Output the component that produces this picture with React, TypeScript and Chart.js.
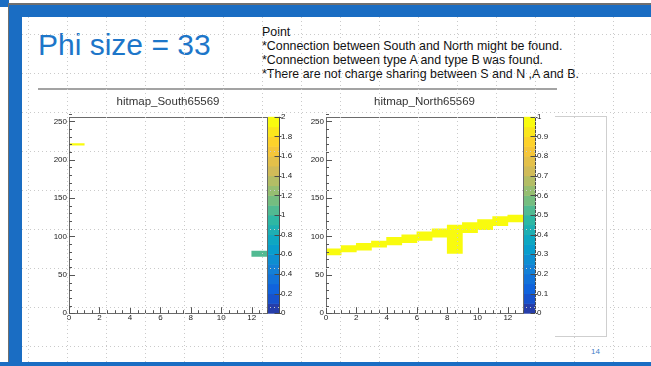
import React, { useEffect, useRef } from 'react';
import { Chart, registerables } from 'chart.js';

Chart.register(...registerables);

// Lower edges of the x bins shared by both hit maps
const xBins = [0, 1, 2, 3, 4, 5, 6, 7, 8, 9, 10, 11, 12];

// hitmap_South65569: filled y-range of each column and its bin content (null = empty column)
const southLow = [219, null, null, null, null, null, null, null, null, null, null, null, 74];
const southHigh = [221, null, null, null, null, null, null, null, null, null, null, null, 81];
const southValue = [2, null, null, null, null, null, null, null, null, null, null, null, 1];

// hitmap_North65569
const northLow = [76, 80, 82, 86, 89, 92, 95, 99, 78, 105, 109, 114, 119];
const northHigh = [84, 88, 91, 94, 99, 102, 106, 110, 115, 118, 122, 126, 128];
const northValue = [1, 1, 1, 1, 1, 1, 1, 1, 1, 1, 1, 1, 1];

// Axis ranges and label steps
const xRange = [0, 13];
const yRange = [0, 256];
const xLabelStep = 2;
const yLabelStep = 50;
const xMinorStep = 0.5;
const yMinorStep = 10;
const southZMax = 2;
const southZStep = 0.2;
const northZMax = 1;
const northZStep = 0.1;

const slideTitle = 'Phi size = 33';
const notes = [
  'Point',
  '*Connection between South and North might be found.',
  '*Connection between type A and type B was found.',
  '*There are not charge sharing between S and N ,A and B.',
];
const pageNumber = '14';

const FONT = "'Liberation Sans', Arial, sans-serif";
const BLUE = '#1a6dc3';
const CONTOURS = 20;

// ROOT "kBird" palette
const birdStops = [0, 0.125, 0.25, 0.375, 0.5, 0.625, 0.75, 0.875, 1];
const birdR = [0.2082, 0.0592, 0.078, 0.0232, 0.1802, 0.5301, 0.8186, 0.9956, 0.9764];
const birdG = [0.1664, 0.3599, 0.5041, 0.6419, 0.7178, 0.7492, 0.7328, 0.7862, 0.9832];
const birdB = [0.5293, 0.8684, 0.8385, 0.7914, 0.6425, 0.4662, 0.3499, 0.1968, 0.0539];

function bird(f: number): string {
  const t = Math.max(0, Math.min(1, f));
  let k = 0;
  while (k < birdStops.length - 2 && t > birdStops[k + 1]) k++;
  const u = (t - birdStops[k]) / (birdStops[k + 1] - birdStops[k]);
  const mix = (a: number[]) => Math.round(255 * (a[k] + (a[k + 1] - a[k]) * u));
  return `rgb(${mix(birdR)},${mix(birdG)},${mix(birdB)})`;
}

function levelColor(level: number) {
  return bird((level + 0.99) / CONTOURS);
}

function cellColor(v: number | null, zMax: number) {
  if (v == null) return 'rgba(0,0,0,0)';
  const level = Math.min(CONTOURS - 1, Math.floor((v / zMax) * CONTOURS));
  return levelColor(level);
}

// Frame, inward tick marks and colour palette in ROOT style
const rootAxesPlugin = {
  id: 'rootAxes',
  afterDatasetsDraw(chart: any) {
    const { ctx, chartArea: a, scales } = chart;
    const x = scales.x;
    const y = scales.y;
    const z = scales.z;
    ctx.save();

    // palette bands
    const palL = Math.round(a.right) + 1;
    const palW = 11;
    for (let i = 0; i < CONTOURS; i++) {
      const y0 = z.getPixelForValue((i * z.max) / CONTOURS);
      const y1 = z.getPixelForValue(((i + 1) * z.max) / CONTOURS);
      ctx.fillStyle = levelColor(i);
      ctx.fillRect(palL, y1, palW, y0 - y1 + 0.5);
    }
    ctx.strokeStyle = '#4a4a4a';
    ctx.lineWidth = 1;
    ctx.beginPath();
    const palR = palL + palW + 0.5;
    ctx.moveTo(palR, a.top);
    ctx.lineTo(palR, a.bottom);
    z.ticks.forEach((t: any) => {
      const py = Math.round(z.getPixelForValue(t.value)) + 0.5;
      ctx.moveTo(palR - 5, py);
      ctx.lineTo(palR + 2, py);
    });
    ctx.stroke();

    // frame
    ctx.strokeStyle = '#6a6a6a';
    ctx.strokeRect(
      Math.round(a.left) + 0.5,
      Math.round(a.top) + 0.5,
      Math.round(a.right - a.left),
      Math.round(a.bottom - a.top)
    );

    // tick marks pointing into the frame
    ctx.strokeStyle = '#555';
    ctx.beginPath();
    const nx = Math.round((x.max - x.min) / xMinorStep);
    for (let i = 0; i <= nx; i++) {
      const v = x.min + i * xMinorStep;
      const px = Math.round(x.getPixelForValue(v)) + 0.5;
      const major = Math.abs(v / xLabelStep - Math.round(v / xLabelStep)) < 1e-6;
      const len = major ? 6 : 3;
      ctx.moveTo(px, a.bottom);
      ctx.lineTo(px, a.bottom - len);
    }
    const ny = Math.round((y.max - y.min) / yMinorStep);
    for (let i = 0; i <= ny; i++) {
      const v = y.min + i * yMinorStep;
      const py = Math.round(y.getPixelForValue(v)) + 0.5;
      const major = v % yLabelStep === 0;
      const len = major ? 6 : 3;
      ctx.moveTo(a.left, py);
      ctx.lineTo(a.left + len, py);
    }
    ctx.stroke();
    ctx.restore();
  },
};

const tickFont = { family: FONT, size: 8 };
const tickColor = '#222';
const cleanNumber = (v: any) => String(+Number(v).toFixed(2));

function buildConfig(
  title: string,
  low: (number | null)[],
  high: (number | null)[],
  value: (number | null)[],
  zMax: number,
  zStep: number
): any {
  const data = xBins.map((b, i) => ({
    x: b + 0.5,
    y: low[i] == null ? null : [low[i], high[i]],
  }));
  return {
    type: 'bar',
    data: {
      datasets: [
        {
          data,
          backgroundColor: (c: any) => cellColor(value[c.dataIndex], zMax),
          borderWidth: 0,
          barPercentage: 1,
          categoryPercentage: 1,
        },
      ],
    },
    options: {
      animation: false,
      responsive: false,
      maintainAspectRatio: false,
      events: [],
      layout: { padding: 0 },
      plugins: {
        legend: { display: false },
        tooltip: { enabled: false },
        title: {
          display: true,
          text: title,
          color: '#333',
          font: { family: FONT, size: 11.5, weight: 'normal' },
          padding: { top: 5, bottom: 8 },
        },
      },
      scales: {
        x: {
          type: 'linear',
          min: xRange[0],
          max: xRange[1],
          offset: false,
          grid: { display: false, drawTicks: false },
          border: { display: false },
          ticks: {
            stepSize: xLabelStep,
            includeBounds: false,
            autoSkip: false,
            maxRotation: 0,
            padding: 0,
            font: tickFont,
            color: tickColor,
            callback: cleanNumber,
          },
          afterFit: (s: any) => {
            s.height = 18;
          },
        },
        y: {
          type: 'linear',
          position: 'left',
          min: yRange[0],
          max: yRange[1],
          grid: { display: false, drawTicks: false },
          border: { display: false },
          ticks: {
            stepSize: yLabelStep,
            includeBounds: false,
            autoSkip: false,
            padding: 2,
            font: tickFont,
            color: tickColor,
            callback: cleanNumber,
          },
          afterFit: (s: any) => {
            s.width = 33;
          },
        },
        z: {
          type: 'linear',
          position: 'right',
          min: 0,
          max: zMax,
          grid: { display: false, drawTicks: false },
          border: { display: false },
          ticks: {
            stepSize: zStep,
            autoSkip: false,
            padding: 14,
            font: tickFont,
            color: tickColor,
            callback: cleanNumber,
          },
          afterFit: (s: any) => {
            s.width = 33;
          },
        },
      },
    },
    plugins: [rootAxesPlugin],
  };
}

function HitMap(props: {
  title: string;
  low: (number | null)[];
  high: (number | null)[];
  value: (number | null)[];
  zMax: number;
  zStep: number;
  left: number;
  width: number;
}) {
  const ref = useRef<HTMLCanvasElement>(null);
  useEffect(() => {
    const chart = new Chart(
      ref.current as HTMLCanvasElement,
      buildConfig(props.title, props.low, props.high, props.value, props.zMax, props.zStep)
    );
    return () => chart.destroy();
  }, []);
  return (
    <canvas
      ref={ref}
      width={props.width}
      height={242}
      style={{ position: 'absolute', left: props.left, top: 90, width: props.width, height: 242 }}
    />
  );
}

function DotGrid() {
  const vx: number[] = [];
  for (let x = 28; x < 651; x += 39) vx.push(x);
  const hy: number[] = [];
  for (let y = 34; y < 362; y += 39) hy.push(y);
  return (
    <svg
      width={651}
      height={366}
      style={{ position: 'absolute', left: 0, top: 0, pointerEvents: 'none' }}
    >
      {vx.map((x) => (
        <line key={'v' + x} x1={x + 0.5} y1={17} x2={x + 0.5} y2={362} stroke="#cacaca" strokeWidth={1} strokeDasharray="1 3" />
      ))}
      {hy.map((y) => (
        <line key={'h' + y} x1={22} y1={y + 0.5} x2={651} y2={y + 0.5} stroke="#cacaca" strokeWidth={1} strokeDasharray="1 3" />
      ))}
    </svg>
  );
}

export default function App() {
  return (
    <div
      style={{
        position: 'fixed',
        left: 0,
        top: 0,
        width: 651,
        height: 366,
        overflow: 'hidden',
        background: '#fff',
        fontFamily: FONT,
      }}
    >
      {/* slide frame */}
      <div style={{ position: 'absolute', left: 0, top: 0, width: 9, height: 7, background: BLUE }} />
      <div style={{ position: 'absolute', left: 9, top: 3, width: 642, height: 2, background: '#6f6f6f' }} />
      <div style={{ position: 'absolute', left: 8, top: 3, width: 1, height: 363, background: '#6f6f6f' }} />
      <div style={{ position: 'absolute', left: 9, top: 5, width: 642, height: 12, background: BLUE }} />
      <div style={{ position: 'absolute', left: 9, top: 5, width: 13, height: 361, background: BLUE }} />
      <div style={{ position: 'absolute', left: 0, top: 362, width: 651, height: 4, background: BLUE }} />

      <div
        style={{
          position: 'absolute',
          left: 38,
          top: 30,
          fontSize: 30,
          lineHeight: '30px',
          color: '#1d76c9',
          whiteSpace: 'nowrap',
        }}
      >
        {slideTitle}
      </div>
      <div
        style={{
          position: 'absolute',
          left: 262,
          top: 25,
          fontSize: 12.4,
          lineHeight: '14px',
          color: '#111',
          whiteSpace: 'nowrap',
        }}
      >
        {notes.map((t) => (
          <div key={t}>{t}</div>
        ))}
      </div>
      <div style={{ position: 'absolute', left: 38, top: 88, width: 519, height: 2, background: '#a3a3a3' }} />

      <div
        style={{
          position: 'absolute',
          left: 555,
          top: 116,
          width: 51,
          height: 219,
          borderTop: '1px solid #cfcfcf',
          borderRight: '1px solid #cfcfcf',
          borderBottom: '1px solid #cfcfcf',
        }}
      />

      <HitMap title="hitmap_South65569" low={southLow} high={southHigh} value={southValue} zMax={southZMax} zStep={southZStep} left={36} width={264} />
      <HitMap title="hitmap_North65569" low={northLow} high={northHigh} value={northValue} zMax={northZMax} zStep={northZStep} left={293} width={263} />

      <div
        style={{
          position: 'absolute',
          left: 591,
          top: 347,
          fontSize: 8,
          lineHeight: '10px',
          color: '#3f7fc8',
        }}
      >
        {pageNumber}
      </div>

      <DotGrid />
    </div>
  );
}
